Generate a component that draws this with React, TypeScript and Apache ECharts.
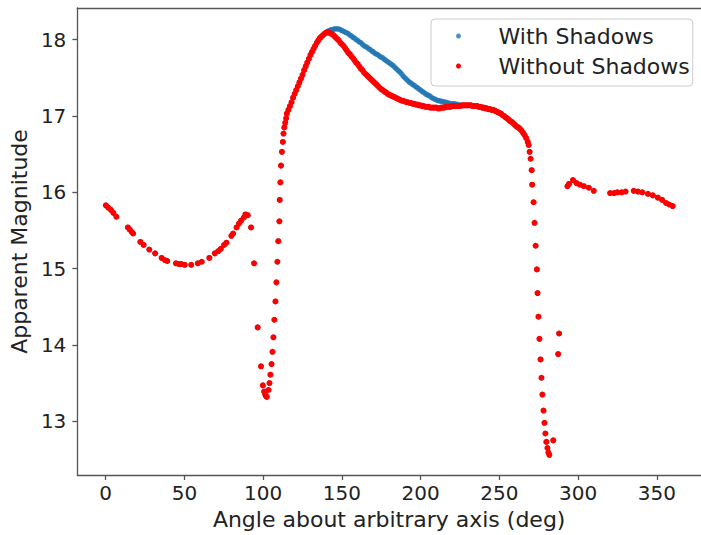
import React, { useEffect, useRef } from "react";
import * as echarts from "echarts";

// Tick values
const xTicks = [0, 50, 100, 150, 200, 250, 300, 350];
const yTicks = [13, 14, 15, 16, 17, 18];

// [angle (deg), apparent magnitude] — points shared by both series
const lowArc: [number, number][] = [
  [0.1, 15.83], [1.6, 15.8], [3.3, 15.77], [4.9, 15.73], [6.8, 15.68], [14.1, 15.54], [15.3, 15.51],
  [16.6, 15.48], [17.4, 15.46], [22.0, 15.35], [24.1, 15.31], [27.7, 15.25], [31.4, 15.2], [35.5, 15.14],
  [37.7, 15.11], [39.1, 15.1], [44.6, 15.07], [46.6, 15.06], [48.1, 15.06], [50.2, 15.05], [54.3, 15.05],
  [58.5, 15.07], [61.0, 15.09], [65.8, 15.14], [69.3, 15.2], [71.5, 15.23], [73.1, 15.26], [75.2, 15.31],
  [76.7, 15.34], [79.8, 15.43], [80.9, 15.46], [83.1, 15.54], [84.6, 15.59], [86.0, 15.63], [87.7, 15.67],
  [88.7, 15.71], [90.2, 15.7], [92.3, 15.54], [94.2, 15.07],
];
const dipAndRise: [number, number][] = [
  [96.5, 14.23], [98.6, 13.72], [99.8, 13.47], [100.6, 13.39], [101.3, 13.35], [101.8, 13.33], [102.3, 13.32],
  [103.4, 13.41], [104.0, 13.5], [104.6, 13.61], [105.3, 13.75], [105.9, 13.91], [106.5, 14.1], [107.1, 14.33],
  [107.8, 14.57], [108.4, 14.82], [109.0, 15.09], [109.6, 15.36], [110.3, 15.62], [110.5, 15.9], [110.9, 16.13],
  [111.3, 16.35], [111.9, 16.53], [112.5, 16.66], [112.9, 16.77], [113.4, 16.85], [114.0, 16.91], [114.6, 16.97],
];
const riseDense: [number, number][] = [
  [115, 17.03], [116, 17.08], [117, 17.13], [118, 17.18], [119, 17.24], [120, 17.29], [121, 17.34], [122, 17.39],
  [123, 17.44], [124, 17.49], [125, 17.54], [126, 17.6], [127, 17.65], [128, 17.7], [129, 17.75], [130, 17.8],
  [131, 17.84], [132, 17.88], [133, 17.92], [134, 17.96], [135, 17.99], [136, 18.02], [137, 18.04], [138, 18.06],
  [139, 18.08],
];
const plateauDense: [number, number][] = [
  [226, 17.14], [227, 17.14], [228, 17.14], [229, 17.14], [230, 17.14], [231, 17.14], [232, 17.14], [233, 17.13],
  [234, 17.13], [235, 17.13], [236, 17.13], [237, 17.12], [238, 17.12], [239, 17.11], [240, 17.11], [241, 17.1],
  [242, 17.1], [243, 17.09], [244, 17.09], [245, 17.08], [246, 17.08], [247, 17.07], [248, 17.06], [249, 17.05],
  [250, 17.04], [251, 17.03], [252, 17.01], [253, 17.0], [254, 16.98], [255, 16.97], [256, 16.95], [257, 16.93],
  [258, 16.92], [259, 16.9], [260, 16.88], [261, 16.86], [262, 16.85], [263, 16.83], [264, 16.81], [265, 16.78],
  [266, 16.75], [267, 16.71], [268, 16.66],
];
const drop: [number, number][] = [
  [268.6, 16.62], [269.2, 16.53], [269.8, 16.44], [270.5, 16.29], [270.8, 16.1], [271.7, 15.87], [272.3, 15.6],
  [273.0, 15.3], [273.8, 14.99], [274.2, 14.68], [274.8, 14.37], [275.4, 14.08], [276.1, 13.81], [276.7, 13.57],
  [277.3, 13.35], [278.0, 13.14], [278.6, 12.98], [279.2, 12.84], [279.8, 12.73], [280.5, 12.65], [281.1, 12.59],
  [281.7, 12.56], [284.2, 12.75], [287.3, 13.88], [287.9, 14.15],
];
const tail: [number, number][] = [
  [293.2, 16.08], [294.2, 16.11], [296.7, 16.16], [299.0, 16.12], [301.1, 16.1], [303.6, 16.08], [306.8, 16.06],
  [309.9, 16.02], [320.3, 15.99], [322.8, 15.99], [324.9, 16.0], [327.6, 16.0], [330.1, 16.01], [335.3, 16.02],
  [338.0, 16.01], [340.7, 16.0], [344.3, 15.98], [347.4, 15.96], [350.6, 15.93], [353.3, 15.9], [355.8, 15.86],
  [357.8, 15.84], [360.0, 15.82],
];

// Where the two series differ
const withShadowsPeak: [number, number][] = [
  [140, 18.1], [141, 18.11], [142, 18.12], [143, 18.13], [144, 18.13], [145, 18.14], [146, 18.14], [147, 18.14],
  [148, 18.14], [149, 18.13], [150, 18.12], [151, 18.11], [152, 18.1], [153, 18.09], [154, 18.08], [155, 18.06],
  [156, 18.05], [157, 18.03], [158, 18.02], [159, 18.0], [160, 17.99], [161, 17.97], [162, 17.96], [163, 17.94],
  [164, 17.92], [165, 17.91], [166, 17.9], [167, 17.88], [168, 17.87], [169, 17.85], [170, 17.84], [171, 17.82],
  [172, 17.81], [173, 17.8], [174, 17.78], [175, 17.77], [176, 17.76], [177, 17.74], [178, 17.73], [179, 17.71],
  [180, 17.7], [181, 17.68], [182, 17.67], [183, 17.65], [184, 17.63], [185, 17.61], [186, 17.59], [187, 17.57],
  [188, 17.55], [189, 17.52], [190, 17.5], [191, 17.48], [192, 17.46], [193, 17.44], [194, 17.43], [195, 17.41],
  [196, 17.4], [197, 17.38], [198, 17.37], [199, 17.35], [200, 17.34], [201, 17.32], [202, 17.31], [203, 17.29],
  [204, 17.28], [205, 17.27], [206, 17.26], [207, 17.24], [208, 17.23], [209, 17.22], [210, 17.21], [211, 17.2],
  [212, 17.2], [213, 17.19], [214, 17.19], [215, 17.18], [216, 17.18], [217, 17.17], [218, 17.17], [219, 17.16],
  [220, 17.16], [221, 17.16], [222, 17.16], [223, 17.15], [224, 17.15], [225, 17.14],
];
const withoutShadowsPeak: [number, number][] = [
  [140, 18.09], [141, 18.1], [142, 18.09], [143, 18.08], [144, 18.07], [145, 18.05], [146, 18.03], [147, 18.01],
  [148, 17.99], [149, 17.96], [150, 17.94], [151, 17.92], [152, 17.89], [153, 17.86], [154, 17.83], [155, 17.81],
  [156, 17.78], [157, 17.76], [158, 17.73], [159, 17.7], [160, 17.68], [161, 17.65], [162, 17.62], [163, 17.6],
  [164, 17.57], [165, 17.55], [166, 17.53], [167, 17.51], [168, 17.49], [169, 17.47], [170, 17.45], [171, 17.43],
  [172, 17.41], [173, 17.39], [174, 17.37], [175, 17.35], [176, 17.34], [177, 17.32], [178, 17.31], [179, 17.29],
  [180, 17.28], [181, 17.27], [182, 17.26], [183, 17.25], [184, 17.24], [185, 17.23], [186, 17.22], [187, 17.21],
  [188, 17.2], [189, 17.2], [190, 17.19], [191, 17.18], [192, 17.18], [193, 17.17], [194, 17.17], [195, 17.16],
  [196, 17.16], [197, 17.15], [198, 17.15], [199, 17.14], [200, 17.14], [201, 17.13], [202, 17.13], [203, 17.12],
  [204, 17.12], [205, 17.12], [206, 17.11], [207, 17.11], [208, 17.11], [209, 17.11], [210, 17.11], [211, 17.1],
  [212, 17.1], [213, 17.11], [214, 17.11], [215, 17.11], [216, 17.12], [217, 17.12], [218, 17.12], [219, 17.12],
  [220, 17.13], [221, 17.13], [222, 17.13], [223, 17.13], [224, 17.13], [225, 17.13],
];

const seriesNames = ["With Shadows", "Without Shadows"];

export default function App() {
  const ref = useRef<HTMLDivElement>(null);
  useEffect(() => {
    if (!ref.current) return;
    const chart = echarts.init(ref.current, undefined, { renderer: "svg" });
    const shared = [...lowArc, ...dipAndRise, ...riseDense, ...plateauDense, ...drop, ...tail];
    const withData = [...shared, ...withShadowsPeak];
    const withoutData = [...shared, ...withoutShadowsPeak];
    const font = "DejaVu Sans";
    const spine = "#555555";
    const spineLine = { show: true, onZero: false, lineStyle: { color: spine, width: 1.3 } };
    chart.setOption({
      animation: false,
      backgroundColor: "#ffffff",
      textStyle: { fontFamily: font },
      grid: {
        left: 77,
        top: 8,
        width: 633,
        height: 469,
      },
      legend: {
        orient: "vertical",
        left: 431,
        top: 19,
        data: seriesNames,
        icon: "circle",
        itemWidth: 10,
        itemHeight: 5,
        itemGap: 8,
        padding: [6, 3, 9, 25],
        backgroundColor: "rgba(255,255,255,0.8)",
        borderColor: "#cccccc",
        borderWidth: 1,
        borderRadius: 4,
        textStyle: {
          fontFamily: font,
          fontSize: 22,
          lineHeight: 22,
          color: "#222222",
          padding: [0, 0, 0, 30],
        },
      },
      xAxis: [
        {
          type: "value",
          min: -18,
          max: 378,
          position: "bottom",
          name: "Angle about arbitrary axis (deg)",
          nameLocation: "middle",
          nameGap: 33,
          nameTextStyle: { fontFamily: font, fontSize: 22, color: "#222222" },
          axisLine: spineLine,
          axisTick: {
            show: true,
            inside: false,
            length: 5,
            lineStyle: { color: spine, width: 1.3 },
            customValues: xTicks,
          },
          axisLabel: {
            fontFamily: font,
            fontSize: 20,
            color: "#222222",
            margin: 8,
            customValues: xTicks,
          },
          splitLine: { show: false },
        },
        {
          type: "value",
          min: -18,
          max: 378,
          position: "top",
          axisLine: spineLine,
          axisTick: { show: false },
          axisLabel: { show: false },
          splitLine: { show: false },
        },
      ],
      yAxis: {
        type: "value",
        min: 12.296,
        max: 18.415,
        position: "left",
        name: "Apparent Magnitude",
        nameLocation: "middle",
        nameGap: 39,
        nameTextStyle: { fontFamily: font, fontSize: 22, color: "#222222" },
        axisLine: spineLine,
        axisTick: {
          show: true,
          inside: false,
          length: 5,
          lineStyle: { color: spine, width: 1.3 },
          customValues: yTicks,
        },
        axisLabel: {
          fontFamily: font,
          fontSize: 20,
          color: "#222222",
          margin: 11,
          customValues: yTicks,
        },
        splitLine: { show: false },
      },
      series: [
        {
          name: seriesNames[0],
          type: "scatter",
          xAxisIndex: 0,
          data: withData,
          symbol: "circle",
          symbolSize: 5.5,
          itemStyle: { color: "#1f77b4" },
        },
        {
          name: seriesNames[1],
          type: "scatter",
          xAxisIndex: 0,
          data: withoutData,
          symbol: "circle",
          symbolSize: 6,
          itemStyle: { color: "#ff0000", opacity: 1 },
        },
      ],
    });
    return () => chart.dispose();
  }, []);
  return (
    <div
      ref={ref}
      style={{ position: "fixed", left: 0, top: 0, width: 701, height: 535, background: "#fff" }}
    />
  );
}
